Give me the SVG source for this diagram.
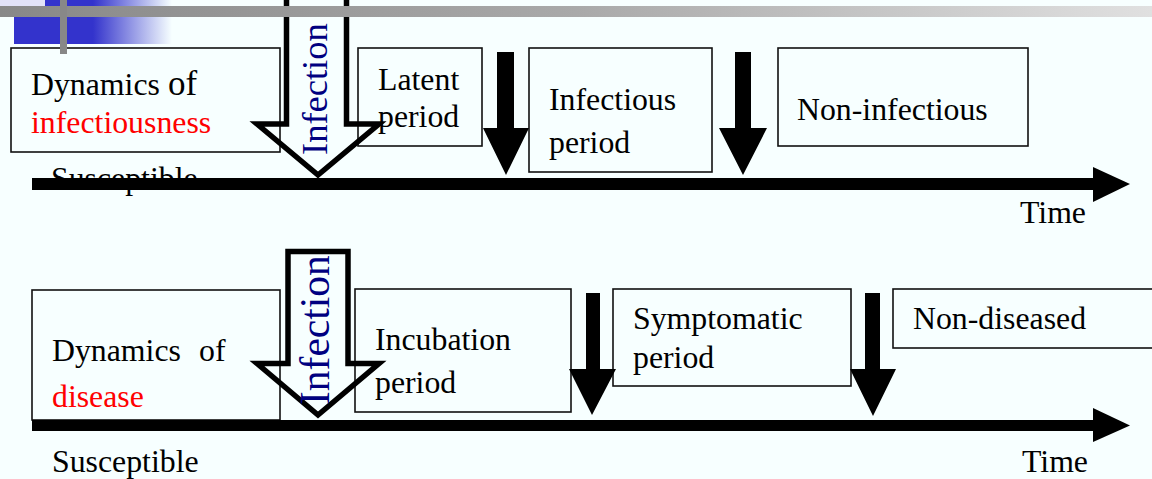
<svg xmlns="http://www.w3.org/2000/svg" width="1152" height="479" viewBox="0 0 1152 479">
  <defs>
    <linearGradient id="barGrad" x1="0" y1="0" x2="1152" y2="0" gradientUnits="userSpaceOnUse">
      <stop offset="0" stop-color="#888888"/>
      <stop offset="0.5" stop-color="#a9a9a9"/>
      <stop offset="1" stop-color="#e0e0e0"/>
    </linearGradient>
    <linearGradient id="blueGrad" x1="14" y1="0" x2="172" y2="0" gradientUnits="userSpaceOnUse">
      <stop offset="0" stop-color="#3333cc"/>
      <stop offset="0.5" stop-color="#3333cc"/>
      <stop offset="1" stop-color="#f7ffff"/>
    </linearGradient>
    <style>
      .box { fill: none; stroke: #111; stroke-width: 1.6; }
      .lbl { font-family: "Liberation Serif", "Times New Roman", serif; font-size: 31.8px; fill: #000; }
      .red { fill: #ff0000; }
      .inf { font-family: "Liberation Serif", "Times New Roman", serif; fill: #000080; }
      .hollow { fill: none; stroke: #000; stroke-width: 5.5; stroke-linejoin: miter; stroke-miterlimit: 10; }
      .solid { fill: #000; stroke: none; }
    </style>
  </defs>

  <!-- page background -->
  <rect x="0" y="0" width="1152" height="479" fill="#f7ffff"/>

  <!-- template ornament, top left -->
  <g id="ornament">
    <rect x="0" y="0" width="45" height="7" fill="#e2e2f8"/>
    <rect x="45" y="0" width="127" height="17" fill="url(#blueGrad)"/>
    <rect x="14" y="17" width="158" height="27" fill="url(#blueGrad)"/>
  </g>

  <!-- ===== infectiousness timeline ===== -->
  <g id="node-infectiousness">
    <rect class="box" x="11" y="48" width="269" height="104"/>
    <text class="lbl" x="31" y="95">Dynamics <tspan x="168" font-size="35">of</tspan></text>
    <text class="lbl red" x="31" y="133">infectiousness</text>
  </g>
  <g id="node-susceptible-1">
    <text class="lbl" x="51" y="189">Susceptible</text>
  </g>
  <g id="node-latent">
    <rect class="box" x="358" y="48" width="124" height="98"/>
    <text class="lbl" x="378" y="90">Latent</text>
    <text class="lbl" x="378" y="127">period</text>
  </g>
  <g id="node-infectious">
    <rect class="box" x="529" y="48" width="183" height="124"/>
    <text class="lbl" x="549" y="110">Infectious</text>
    <text class="lbl" x="549" y="153">period</text>
  </g>
  <g id="node-noninfectious">
    <rect class="box" x="778" y="48" width="250" height="98"/>
    <text class="lbl" x="797" y="120">Non-infectious</text>
  </g>
  <g id="node-time-1">
    <text class="lbl" x="1020" y="223">Time</text>
  </g>

  <!-- ===== disease timeline ===== -->
  <g id="node-disease">
    <rect class="box" x="32" y="290" width="248" height="130"/>
    <text class="lbl" x="52" y="361">Dynamics <tspan x="199">of</tspan></text>
    <text class="lbl red" x="52" y="407">disease</text>
  </g>
  <g id="node-susceptible-2">
    <text class="lbl" x="52" y="472">Susceptible</text>
  </g>
  <g id="node-incubation">
    <rect class="box" x="355" y="289" width="216" height="123"/>
    <text class="lbl" x="375" y="350">Incubation</text>
    <text class="lbl" x="375" y="393">period</text>
  </g>
  <g id="node-symptomatic">
    <rect class="box" x="613" y="289" width="238" height="97"/>
    <text class="lbl" x="633" y="329">Symptomatic</text>
    <text class="lbl" x="633" y="368">period</text>
  </g>
  <g id="node-nondiseased">
    <rect class="box" x="893" y="289" width="270" height="59"/>
    <text class="lbl" x="913" y="329">Non-diseased</text>
  </g>
  <g id="node-time-2">
    <text class="lbl" x="1022" y="472">Time</text>
  </g>

  <!-- ===== connectors: time axes, infection and transition arrows ===== -->
  <g id="connectors">
    <!-- time axes -->
    <rect class="solid" x="32" y="178" width="1062" height="12"/>
    <polygon class="solid" points="1093,167 1130,184 1093,202"/>
    <rect class="solid" x="32" y="420" width="1062" height="11"/>
    <polygon class="solid" points="1093,408 1130,425.5 1093,442"/>

    <!-- infection arrows (hollow) -->
    <path class="hollow" d="M286.5,0 L286.5,124 L257,124 L318,175 L379,124 L346.5,124 L346.5,0"/>
    <path class="hollow" d="M288,251.5 L348,251.5 L348,363.5 L379,363.5 L318,415 L257,363.5 L288,363.5 Z"/>
    <text class="inf" font-size="36.5" transform="translate(327,155) rotate(-90)">Infection</text>
    <text class="inf" font-size="41.5" transform="translate(329,405) rotate(-90)">Infection</text>

    <!-- transition arrows -->
    <polygon class="solid" points="497,52 514,52 514,128 529,128 506,175 483,128 497,128"/>
    <polygon class="solid" points="735,52 751,52 751,128 767,128 743,175 719,128 735,128"/>
    <polygon class="solid" points="586,293 600,293 600,369 616,369 592,415 569,369 586,369"/>
    <polygon class="solid" points="865,293 880,293 880,369 896,369 873,416 850,369 865,369"/>
  </g>

  <!-- template rules across the top -->
  <g id="rules">
    <rect x="0" y="6" width="1152" height="11" fill="url(#barGrad)"/>
    <rect x="60" y="0" width="7" height="54" fill="#888888"/>
  </g>
</svg>
